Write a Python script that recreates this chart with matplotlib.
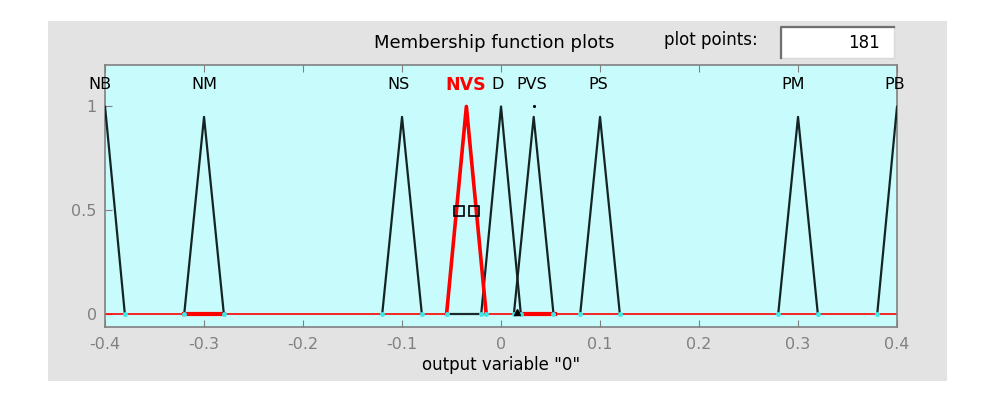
import matplotlib
matplotlib.use("Agg")
import matplotlib.pyplot as plt
from matplotlib.patches import Rectangle
from matplotlib.lines import Line2D

# membership functions: left foot, peak, right foot, peak height
mf_names = ["NB", "NM", "NS", "NVS", "D", "PVS", "PS", "PM", "PB"]
mf_left = [-0.42, -0.32, -0.12, -0.055, -0.02, 0.013, 0.08, 0.28, 0.38]
mf_peak = [-0.40, -0.30, -0.10, -0.035, 0.0, 0.033, 0.10, 0.30, 0.40]
mf_right = [-0.38, -0.28, -0.08, -0.015, 0.02, 0.053, 0.12, 0.32, 0.42]
mf_height = [1.0, 0.95, 0.95, 1.0, 1.0, 0.95, 0.95, 0.95, 1.0]
label_x = [-0.405, -0.30, -0.104, -0.036, -0.003, 0.031, 0.098, 0.295, 0.398]
selected = "NVS"

x_ticks = [-0.4, -0.3, -0.2, -0.1, 0, 0.1, 0.2, 0.3, 0.4]
x_ticklabels = ["-0.4", "-0.3", "-0.2", "-0.1", "0", "0.1", "0.2", "0.3", "0.4"]
y_ticks = [0, 0.5, 1]
y_ticklabels = ["0", "0.5", "1"]
plot_points = 181

plt.rcParams['font.family'] = ['DejaVu Sans']
fig = plt.figure(figsize=(9.89, 4.01), dpi=100)
fig.patch.set_facecolor("white")

# gray panel behind everything
panel = Rectangle((0.0485, 0.05), 0.909, 0.898, transform=fig.transFigure,
                  facecolor="#e3e3e3", edgecolor="none", zorder=-10)
fig.patches.append(panel)

ax = fig.add_axes([0.1062, 0.1845, 0.8008, 0.6534])
ax.set_facecolor("#c8fbfb")
ax.set_xlim(-0.4, 0.4)
ax.set_ylim(-0.063, 1.2)

# zero line of the selected function over the whole range
ax.plot([-0.4, 0.4], [0, 0], color="red", lw=1.2, zorder=2)
ax.plot([mf_left[1], mf_right[1]], [0, 0], color="red", lw=3, zorder=2)
ax.plot([0.016, 0.055], [0, 0], color="red", lw=3, zorder=2)
ax.plot([mf_left[3], -0.019], [0, 0], color="#1a2a2a", lw=1.6, zorder=3)

for i, name in enumerate(mf_names):
    xs = [mf_left[i], mf_peak[i], mf_right[i]]
    ys = [0, mf_height[i], 0]
    if name == selected:
        ax.plot(xs, ys, color="red", lw=2.6, zorder=4)
        ax.text(label_x[i], 1.106, name, color="red", fontsize=12.5, fontweight="bold",
                ha="center", va="center")
    else:
        ax.plot(xs, ys, color="#142424", lw=1.6, zorder=3)
        ax.text(label_x[i], 1.106, name, color="black", fontsize=11.5,
                ha="center", va="center")
    ax.plot([mf_left[i], mf_right[i]], [0, 0], ls="none", marker="o", ms=2.5,
            color="#40e8e8", zorder=5)

# square handles on the selected function
ax.plot([-0.0425, -0.0275], [0.495, 0.495], ls="none", marker="s", ms=7.5,
        mfc="none", mec="black", mew=1.2, zorder=6)
ax.plot([0.033], [1.0], ls="none", marker=".", ms=2.5, color="black", zorder=6)
ax.plot([0.016], [0.01], ls="none", marker="^", ms=4, color="black", zorder=6)

ax.set_xticks(x_ticks)
ax.set_xticklabels(x_ticklabels)
ax.set_yticks(y_ticks)
ax.set_yticklabels(y_ticklabels)
ax.tick_params(axis="x", direction="in", top=True, length=5, color="#808080",
               labelcolor="#808080", labelsize=11.5, pad=7)
ax.tick_params(axis="y", direction="in", length=5, color="#808080",
               labelcolor="#808080", labelsize=11.5, pad=6)
for sp in ax.spines.values():
    sp.set_color("#808080")
    sp.set_linewidth(1.2)

ax.set_xlabel('output variable "0"', fontsize=12, labelpad=3)

fig.text(0.5, 0.893, "Membership function plots", fontsize=13, ha="center", va="center")
fig.text(0.719, 0.9, "plot points:", fontsize=12, ha="center", va="center")

# sunken edit box
bx, by, bw, bh = 0.79, 0.855, 0.114, 0.077
box = Rectangle((bx, by), bw, bh, transform=fig.transFigure,
                facecolor="white", edgecolor="#d8d8d8", lw=1.0, zorder=1)
fig.patches.append(box)
fig.lines.append(Line2D([bx, bx, bx + bw], [by, by + bh, by + bh], transform=fig.transFigure,
                        color="#707070", lw=1.6, zorder=2))
fig.text(0.89, 0.893, str(plot_points), fontsize=12, ha="right", va="center", zorder=3)

fig.savefig("out.png", dpi=100)
